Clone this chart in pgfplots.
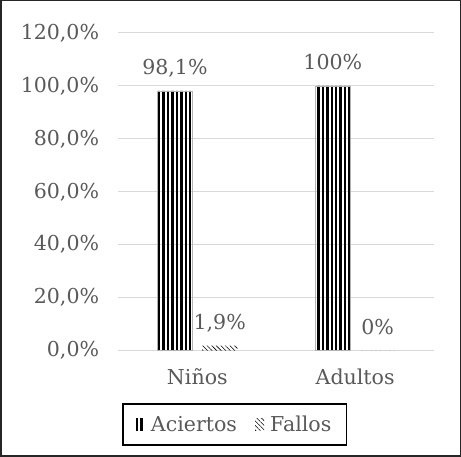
\documentclass[border=0pt]{standalone}
\usepackage{fontspec}
\setmainfont{DejaVu Serif}
\usepackage{pgfplots}
\pgfplotsset{compat=1.18}
\usetikzlibrary{patterns.meta}
\definecolor{txt}{HTML}{595959}
\definecolor{grd}{HTML}{D9D9D9}
\newcommand\cf{\fontsize{20.5}{24.6}\selectfont}
\begin{document}
\begin{tikzpicture}[x=1bp,y=1bp]
\draw[line width=1.5bp, black!85] (-117,-105) rectangle (340,348);
\begin{axis}[
  at={(0,0)}, anchor=south west,
  scale only axis, width=314bp, height=316bp,
  ymin=0, ymax=120, xmin=-0.5, xmax=1.5,
  ytick={0,20,40,60,80,100,120},
  yticklabels={{0,0\%},{20,0\%},{40,0\%},{60,0\%},{80,0\%},{100,0\%},{120,0\%}},
  xtick={0,1}, xticklabels={Niños,Adultos},
  ymajorgrids, grid style={grd, line width=1bp},
  axis x line*=bottom, axis y line*=left,
  x axis line style={grd, line width=1bp, -},
  y axis line style={draw=none},
  major tick length=0pt,
  tick label style={font=\cf, text=txt, inner sep=0pt},
  yticklabel style={xshift=-19bp},
  xticklabel style={yshift=-18bp},
  ybar=9.5bp, bar width=35bp,
  nodes near coords, point meta=explicit symbolic,
  every node near coord/.append style={font=\cf, text=txt, anchor=base, yshift=16bp, inner sep=0pt},
  legend columns=2,
  legend style={at={(0.368,-0.2326)}, anchor=center, draw=black, line width=1.5bp,
    font=\cf, text=txt, inner xsep=13bp, inner ysep=10bp,
    /tikz/every odd column/.append style={column sep=4bp},
    /tikz/every even column/.append style={column sep=16bp}},
  legend image code/.code={\draw[#1, line width=0.5bp, draw=none] (0bp,-6bp) rectangle (9bp,6bp);},
]
\addplot[draw=gray!60, line width=0.6bp, pattern={Lines[angle=90,distance=4.4bp,line width=2.4bp]}, pattern color=black]
  coordinates {(0,98.1) [{98,1\%}] (1,100) [{100\%}]};
\addplot[draw=none, pattern={Lines[angle=-45,distance=3.2bp,line width=0.6bp]}, pattern color=black]
  coordinates {(0,1.9) [{1,9\%}] (1,0) [{0\%}]};
\legend{Aciertos, Fallos}
\end{axis}
\end{tikzpicture}
\end{document}
